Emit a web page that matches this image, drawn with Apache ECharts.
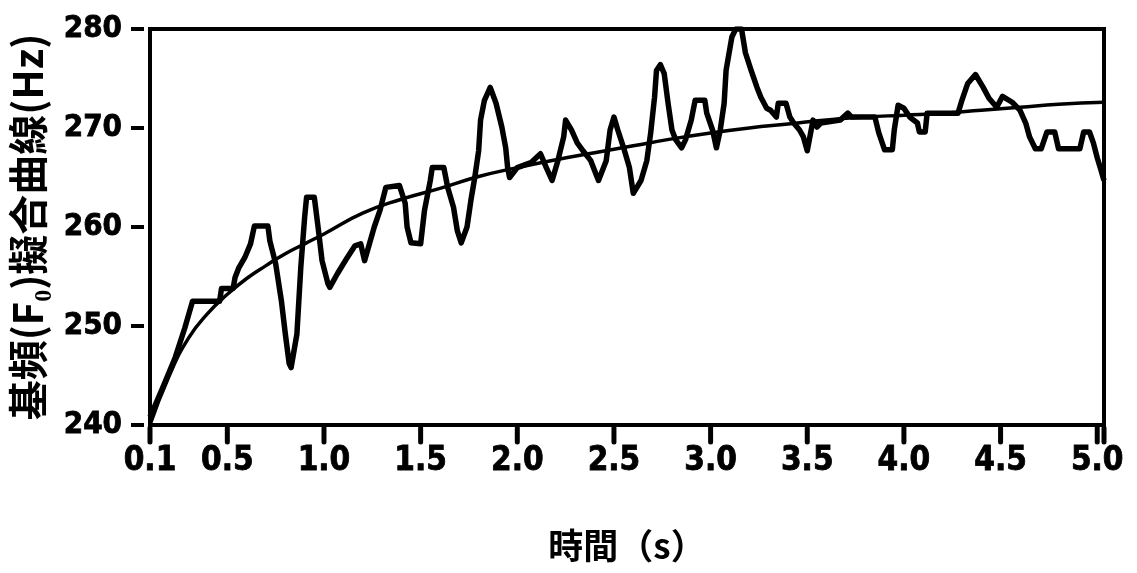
<!DOCTYPE html>
<html>
<head>
<meta charset="utf-8">
<script src="https://cdn.jsdelivr.net/npm/echarts@6/dist/echarts.min.js"></script>
<style>
  html, body { margin: 0; padding: 0; background: #fff; }
  #chart { width: 1137px; height: 573px; }
</style>
</head>
<body>
<div id="chart"></div>
<script>
// Measured F0 contour (time in s, frequency in Hz)
const rawTime = [
  0.10, 0.16, 0.23, 0.28, 0.32, 0.46, 0.47, 0.53, 0.54, 0.56, 0.59, 0.62, 0.64, 0.71,
  0.72, 0.75, 0.78, 0.80, 0.82, 0.83, 0.86, 0.88, 0.90, 0.91, 0.95, 0.97, 0.99, 1.02,
  1.03, 1.07, 1.12, 1.16, 1.19, 1.21, 1.26, 1.29, 1.32, 1.33, 1.39, 1.42, 1.43, 1.45,
  1.50, 1.52, 1.55, 1.56, 1.62, 1.64, 1.67, 1.69, 1.71, 1.74, 1.76, 1.78, 1.80, 1.81,
  1.83, 1.86, 1.89, 1.92, 1.94, 1.95, 1.96, 2.00, 2.07, 2.12, 2.15, 2.18, 2.21, 2.24,
  2.25, 2.28, 2.31, 2.34, 2.38, 2.42, 2.46, 2.48, 2.50, 2.52, 2.55, 2.58, 2.60, 2.64,
  2.67, 2.69, 2.71, 2.72, 2.74, 2.76, 2.78, 2.80, 2.82, 2.85, 2.87, 2.90, 2.92, 2.97,
  2.98, 3.01, 3.03, 3.05, 3.07, 3.08, 3.11, 3.13, 3.16, 3.18, 3.21, 3.24, 3.26, 3.29,
  3.31, 3.34, 3.35, 3.39, 3.41, 3.43, 3.46, 3.48, 3.50, 3.53, 3.55, 3.57, 3.67, 3.71,
  3.73, 3.85, 3.87, 3.90, 3.94, 3.95, 3.97, 4.00, 4.03, 4.07, 4.08, 4.11, 4.12, 4.28,
  4.30, 4.33, 4.37, 4.41, 4.44, 4.48, 4.51, 4.56, 4.60, 4.63, 4.65, 4.68, 4.71, 4.74,
  4.78, 4.80, 4.91, 4.93, 4.96, 4.98, 5.00, 5.02, 5.035
];
const rawHz = [
  240.8, 243.5, 246.8, 249.8, 252.5, 252.5, 253.8, 253.8, 254.9, 255.9, 256.9, 258.3, 260.1, 260.1,
  258.6, 256.3, 252.5, 249.2, 246.2, 245.8, 249.2, 255.9, 261.0, 263.0, 263.0, 259.9, 256.6, 254.3,
  253.9, 255.3, 256.9, 258.1, 258.3, 256.6, 260.0, 261.7, 264.0, 264.2, 264.2, 262.4, 260.0, 258.4,
  258.3, 261.7, 264.7, 266.0, 266.0, 264.0, 262.0, 259.6, 258.4, 260.0, 262.7, 265.0, 267.7, 270.8,
  272.8, 274.1, 272.5, 270.1, 268.0, 266.0, 265.0, 266.0, 266.5, 267.4, 266.0, 264.7, 266.7, 269.1,
  270.8, 269.8, 268.5, 267.7, 266.7, 264.7, 266.7, 269.8, 271.1, 269.8, 268.0, 266.0, 263.4, 264.7,
  266.7, 269.5, 273.1, 275.8, 276.4, 275.5, 272.5, 269.8, 268.8, 268.0, 268.8, 270.8, 272.8, 272.8,
  271.5, 269.8, 268.0, 269.8, 272.5, 275.8, 279.2, 280.0, 280.0, 277.6, 275.8, 274.1, 273.1, 272.0,
  271.8, 271.1, 272.5, 272.5, 271.1, 270.5, 269.8, 269.1, 267.7, 270.8, 270.1, 270.5, 270.8, 271.5,
  271.1, 271.1, 269.5, 267.8, 267.8, 269.8, 272.3, 272.0, 271.1, 270.5, 269.6, 269.6, 271.5, 271.5,
  272.8, 274.5, 275.4, 274.1, 273.0, 272.1, 273.2, 272.6, 271.8, 270.5, 269.1, 267.9, 267.9, 269.6,
  269.6, 267.9, 267.9, 269.6, 269.6, 268.5, 267.0, 265.7, 264.7
];

// Fitted curve
const fitTime = [
  0.10, 0.20, 0.30, 0.40, 0.50, 0.60, 0.70, 0.80, 0.90, 1.00, 1.20, 1.40, 1.60, 1.80, 2.00,
  2.20, 2.40, 2.60, 2.80, 3.00, 3.20, 3.40, 3.60, 3.80, 4.00, 4.20, 4.40, 4.60, 4.80, 5.035
];
const fitHz = [
  240.0, 245.0, 248.8, 251.3, 253.2, 254.8, 256.1, 257.3, 258.3, 259.3, 261.4, 262.8, 263.9, 265.1, 266.0,
  266.8, 267.5, 268.2, 268.9, 269.5, 270.0, 270.4, 270.8, 271.1, 271.3, 271.5, 271.8, 272.1, 272.4, 272.6
];

// Axis tick labels and tick marks
const xTickValues = [0.1, 0.5, 1.0, 1.5, 2.0, 2.5, 3.0, 3.5, 4.0, 4.5, 5.0];
const xTickMarks = xTickValues.concat([5.035]);
const yTickValues = [240, 250, 260, 270, 280];
const yMin = 240, yMax = 280, yStep = 10;
const xMin = 0.1, xMax = 5.035;

const toPairs = (xs, ys) => xs.map((x, i) => [x, ys[i]]);

const labelFont = 'DejaVu Sans Condensed';
const cjkFont = 'Noto Sans CJK TC';

// Tick marks drawn as short strokes outside the plot, placed through the axis scales
function xTickItem(params, api) {
  const p = api.coord([api.value(0), yMin]);
  return {
    type: 'line',
    shape: { x1: p[0], y1: p[1] + 3, x2: p[0], y2: p[1] + 17 },
    style: { stroke: '#000', lineWidth: 5, lineCap: 'round' }
  };
}
function yTickItem(params, api) {
  const p = api.coord([xMin, api.value(1)]);
  return {
    type: 'line',
    shape: { x1: p[0] - 19, y1: p[1], x2: p[0] - 6, y2: p[1] },
    style: { stroke: '#000', lineWidth: 4 }
  };
}

const chart = echarts.init(document.getElementById('chart'));

chart.setOption({
  animation: false,
  grid: {
    left: 148, right: 33, top: 29, bottom: 148,
    show: true, borderColor: '#000', borderWidth: 4
  },
  xAxis: {
    type: 'value',
    min: xMin, max: xMax,
    name: '時間（s）',
    nameLocation: 'middle',
    nameGap: 103,
    nameTextStyle: { fontFamily: cjkFont, fontWeight: 'bold', fontSize: 35, color: '#000' },
    axisLine: { show: true, lineStyle: { color: '#000', width: 4 } },
    axisTick: { show: false },
    axisLabel: {
      customValues: xTickValues,
      formatter: v => v.toFixed(1),
      margin: 20,
      fontFamily: labelFont, fontWeight: 'bold', fontSize: 33, color: '#000',
      textBorderColor: '#000', textBorderWidth: 0.8
    },
    splitLine: { show: false }
  },
  yAxis: {
    type: 'value',
    min: yMin, max: yMax, interval: yStep,
    name: '基頻(F₀)擬合曲線(Hz)',
    nameLocation: 'middle',
    nameRotate: 90,
    nameGap: 102,
    nameTextStyle: { fontFamily: cjkFont, fontWeight: 'bold', fontSize: 40, color: '#000' },
    axisLine: { show: true, lineStyle: { color: '#000', width: 4 } },
    axisTick: { show: false },
    axisLabel: {
      margin: 28,
      fontFamily: labelFont, fontWeight: 'bold', fontSize: 31, color: '#000',
      textBorderColor: '#000', textBorderWidth: 0.8
    },
    splitLine: { show: false }
  },
  series: [
    {
      name: 'fit',
      type: 'line',
      data: toPairs(fitTime, fitHz),
      smooth: true,
      symbol: 'none',
      lineStyle: { color: '#000', width: 3.5 }
    },
    {
      name: 'F0',
      type: 'line',
      data: toPairs(rawTime, rawHz),
      symbol: 'none',
      lineStyle: { color: '#000', width: 5.5, join: 'round' }
    },
    {
      name: 'xTicks',
      type: 'custom',
      clip: false,
      silent: true,
      data: xTickMarks.map(v => [v, yMin]),
      renderItem: xTickItem
    },
    {
      name: 'yTicks',
      type: 'custom',
      clip: false,
      silent: true,
      data: yTickValues.map(v => [xMin, v]),
      renderItem: yTickItem
    }
  ]
});
</script>
</body>
</html>
